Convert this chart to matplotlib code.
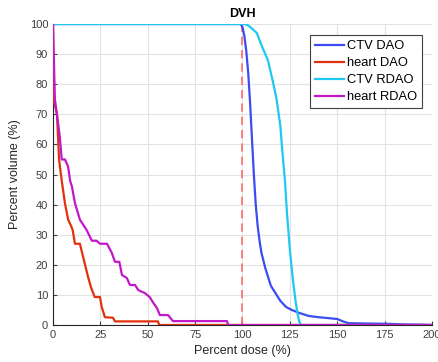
import matplotlib
matplotlib.use("Agg")
import matplotlib.pyplot as plt

plt.rcParams['font.family'] = ['Liberation Sans', 'DejaVu Sans']

# ---- data ----
ctv_dao_x = [0, 99, 100, 101, 102, 103, 104, 105, 106, 107, 108, 109, 110, 112, 115,
             118, 120, 123, 126, 130, 135, 140, 145, 150, 153, 156, 165, 176, 185, 195, 200]
ctv_dao_y = [100, 100, 99, 96, 91, 84, 74, 62, 50, 40, 33, 28, 24, 19, 13,
             10, 8, 6, 5, 4, 3, 2.6, 2.3, 2, 1.2, 0.6, 0.5, 0.4, 0.2, 0.1, 0]

heart_dao_x = [0, 0.3, 2.1, 3.2, 4.6, 6.3, 8, 9.5, 10.4, 11.6, 14.2, 15.9, 18.5, 20,
               22, 24.8, 25.7, 27.4, 31.7, 32.7, 55.4, 56, 200]
heart_dao_y = [100, 75, 70, 55, 48, 40.5, 35, 33, 31.5, 27, 27, 22.6, 16, 12.6,
               9.3, 9.3, 6, 2.6, 2.4, 1.2, 1.2, 0, 0]

ctv_rdao_x = [0, 101, 103, 105, 107.6, 110, 113.4, 116, 118, 120, 121, 122.4, 123.5,
              125, 126.6, 128, 129, 130, 131, 200]
ctv_rdao_y = [100, 100, 99.5, 98.5, 97, 93, 88, 81, 75, 66, 58, 48, 37,
              25, 15, 8, 4, 1, 0, 0]

heart_rdao_x = [0, 1, 2.7, 3.6, 4.6, 6.3, 8, 9, 10, 11.6, 14.2, 17.8, 20.5, 23, 24.8,
                28.5, 31, 32.7, 35, 36.4, 39, 40.6, 43.3, 45, 48.5, 51, 53, 54.9,
                56.4, 60.7, 63.3, 91.8, 92.5, 200]
heart_rdao_y = [100, 75, 67, 62.5, 55, 55, 52.6, 48, 46, 40.5, 35, 31.5, 28, 28, 27,
                27, 24, 21, 21, 16.6, 15.6, 13.3, 13.3, 11.6, 10.6, 9.3, 7.3, 5.6,
                3.3, 3.3, 1.3, 1.3, 0, 0]

prescription = 100

fig = plt.figure(figsize=(4.39, 3.62), dpi=100)
ax = fig.add_axes([0.1207, 0.1022, 0.8633, 0.8315])

ax.axvline(prescription, color='#ff6b6b', linestyle=(0, (5, 3)), linewidth=1.2, zorder=1)
ax.plot(ctv_dao_x, ctv_dao_y, color='#3b4cf0', linewidth=1.6, label='CTV DAO', zorder=3)
ax.plot(heart_dao_x, heart_dao_y, color='#e2310f', linewidth=1.6, label='heart DAO', zorder=3)
ax.plot(ctv_rdao_x, ctv_rdao_y, color='#1ec8f2', linewidth=1.6, label='CTV RDAO', zorder=3)
ax.plot(heart_rdao_x, heart_rdao_y, color='#c218c8', linewidth=1.6, label='heart RDAO', zorder=3)

ax.set_xlim(0, 200)
ax.set_ylim(0, 100)
ax.set_xticks(range(0, 201, 25))
ax.set_yticks(range(0, 101, 10))
ax.grid(True, color='#e3e3e3', linewidth=0.8)
ax.set_axisbelow(True)
for s in ['top', 'right']:
    ax.spines[s].set_visible(False)
for s in ['left', 'bottom']:
    ax.spines[s].set_color('#262626')
    ax.spines[s].set_linewidth(0.8)
ax.tick_params(colors='#404040', labelsize=8, length=3, direction='in')

ax.set_xlabel('Percent dose (%)', fontsize=9, color='#262626')
ax.set_ylabel('Percent volume (%)', fontsize=9, color='#262626', labelpad=6)
ax.set_title('DVH', fontsize=9, fontweight='bold', pad=5)

leg = ax.legend(loc='upper right', bbox_to_anchor=(0.974, 0.963), borderaxespad=0,
                fontsize=9.3, fancybox=False, edgecolor='#404040', framealpha=1,
                handlelength=2.2, handletextpad=0.25, borderpad=0.4, labelspacing=0.38)
leg.get_frame().set_linewidth(0.8)

fig.savefig('out.png', dpi=100)
